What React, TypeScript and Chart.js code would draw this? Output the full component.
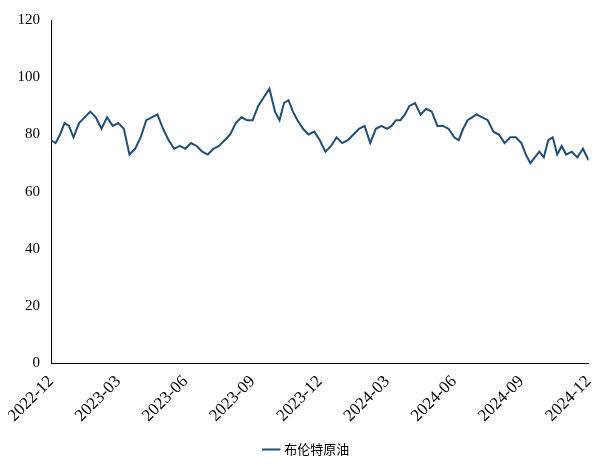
import React, { useEffect, useRef } from 'react';
import Chart from 'chart.js/auto';

// Brent prices (USD/bbl), grouped by month, 2022-12 .. 2024-12
const brentByMonth: number[][] = [
  [78, 77, 80, 84, 83],
  [79, 84, 86, 88],
  [86, 82, 86, 83],
  [84, 82, 73, 75],
  [79, 85, 86, 87],
  [82, 78, 75, 76],
  [75, 77, 76, 74],
  [73, 75, 76, 78],
  [80, 84, 86, 85],
  [85, 90, 93, 96],
  [88, 85, 91, 92, 88],
  [85, 82, 80, 81],
  [78, 74, 76, 79],
  [77, 78, 80, 82],
  [83, 77, 82, 83],
  [82, 83, 85, 85, 87],
  [90, 91, 87, 89],
  [88, 83, 83, 82],
  [79, 78, 82, 85, 86],
  [87, 86, 85, 81],
  [80, 77, 79, 79],
  [77, 73, 70, 72, 74],
  [72, 78, 79, 73, 76],
  [73, 74, 72, 75],
  [71],
];
const xTickLabels = [
  '2022-12', '2023-03', '2023-06', '2023-09', '2023-12',
  '2024-03', '2024-06', '2024-09', '2024-12',
];
const seriesName = '布伦特原油';

const App: React.FC = () => {
  const canvasRef = useRef<HTMLCanvasElement>(null);

  useEffect(() => {
    if (!canvasRef.current) return;
    // x in months since 2022-12
    const points = brentByMonth.flatMap((vals, m) =>
      vals.map((v, k) => ({ x: m + k / vals.length, y: v }))
    );

    const chart = new Chart(canvasRef.current, {
      type: 'line',
      data: {
        datasets: [
          {
            label: seriesName,
            data: points,
            borderColor: '#1F4E79',
            backgroundColor: '#1F4E79',
            borderWidth: 2,
            pointRadius: 0,
            tension: 0,
          },
        ],
      },
      options: {
        animation: false,
        responsive: true,
        maintainAspectRatio: false,
        layout: { padding: { right: 0, top: 8 } },
        plugins: {
          legend: {
            position: 'bottom',
            labels: {
              usePointStyle: true,
              pointStyle: 'line',
              boxWidth: 40,
              padding: 14,
              color: '#000',
              font: { family: 'Noto Sans CJK SC', size: 13 },
            },
          },
          tooltip: { enabled: false },
        },
        scales: {
          x: {
            type: 'linear',
            min: 0,
            max: 24,
            grid: { display: false, tickLength: 5, color: '#000' },
            border: { color: '#000' },
            ticks: {
              stepSize: 3,
              maxRotation: 45,
              minRotation: 45,
              color: '#000',
              font: { family: 'Liberation Serif', size: 17 },
              callback: (v) => xTickLabels[Math.round(Number(v) / 3)] ?? '',
            },
          },
          y: {
            min: 0,
            max: 120,
            grid: { display: false },
            border: { color: '#000' },
            ticks: {
              stepSize: 20,
              color: '#000',
              font: { family: 'Liberation Serif', size: 15 },
            },
          },
        },
      },
    });
    return () => chart.destroy();
  }, []);

  return (
    <div style={{ width: 598, height: 458, background: '#fff' }}>
      <canvas ref={canvasRef}></canvas>
    </div>
  );
};

export default App;
